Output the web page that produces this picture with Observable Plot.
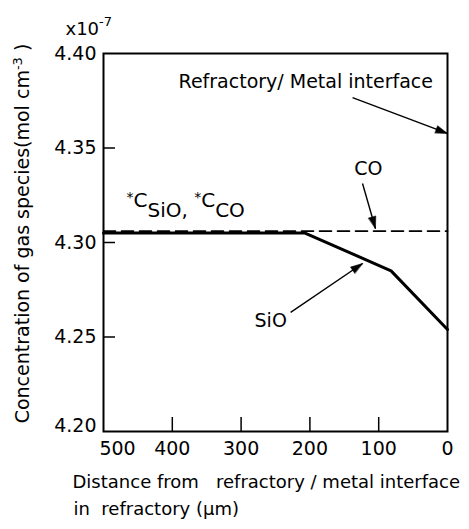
<!DOCTYPE html>
<html><head><meta charset="utf-8">
<script src="https://cdn.jsdelivr.net/npm/d3@7"></script>
<script src="https://cdn.jsdelivr.net/npm/@observablehq/plot@0.6"></script>
<style>
body{margin:0;background:#fff;}
svg text{white-space:pre;}
</style>
</head><body><div id="chart"></div>
<script>
// Data
const coDistance = [500, 0];
const coConc = [4.306, 4.306];
const sioDistance = [500, 207, 82, 0];
const sioConc = [4.305, 4.305, 4.285, 4.254];
const xTickLabels = [400, 300, 200, 100, 0];
const xFirstLabel = [500];
const xTickMarks = [400, 300, 200, 100];
const yTickLabels = [4.25, 4.30, 4.35, 4.40];
const yFirstLabel = [4.20];
const yTickMarks = [4.25, 4.30, 4.35];

// Annotations
const arrowX1 = [138, 123.5, 228];
const arrowY1 = [4.3767, 4.3312, 4.263];
const arrowX2 = [0, 104.7, 123.5];
const arrowY2 = [4.3577, 4.3074, 4.2889];
const noteText = ["Refractory/ Metal interface", "CO", "SiO"];
const noteX = [206, 115, 257];
const noteY = [4.385, 4.339, 4.2587];

const W = 469, H = 529, mL = 103, mR = 22, mT = 53, mB = 98;
const pw = W - mL - mR, ph = H - mT - mB;
const xDomain = [500, 0], yDomain = [4.20, 4.40];

// library scales, used only to orient the arrowheads on screen
const sx = Plot.scale({x: {domain: xDomain, range: [mL, W - mR]}});
const sy = Plot.scale({y: {domain: yDomain, range: [H - mB, mT]}});

const co = coDistance.map((d, i) => ({d, c: coConc[i]}));
const sio = sioDistance.map((d, i) => ({d, c: sioConc[i]}));
const arrows = arrowX1.map((x1, i) => {
  const a = {x1, y1: arrowY1[i], x2: arrowX2[i], y2: arrowY2[i]};
  const dx = sx.apply(a.x2) - sx.apply(a.x1), dy = sy.apply(a.y2) - sy.apply(a.y1);
  a.angle = Math.atan2(dx, -dy) * 180 / Math.PI;
  return a;
});
const notes = noteText.map((t, i) => ({t, x: noteX[i], y: noteY[i]}));

const head = {
  draw(context, l) {
    context.moveTo(0, -l);
    context.lineTo(-3.8, -l + 12);
    context.lineTo(3.8, -l + 12);
    context.closePath();
  }
};

const FONT = "'DejaVu Sans', 'Liberation Sans', Arial, sans-serif";

const chart = Plot.plot({
  width: W, height: H,
  marginLeft: mL, marginRight: mR, marginTop: mT, marginBottom: mB,
  style: {fontFamily: FONT, fontSize: "19px", color: "black", background: "white"},
  x: {domain: xDomain},
  y: {domain: yDomain},
  marks: [
    Plot.axisX({ticks: xTickLabels, tickSize: 0, tickPadding: 10, label: null, tickFormat: d => String(d)}),
    Plot.text(xFirstLabel, {x: d => d, frameAnchor: "bottom", lineAnchor: "top", dy: 10, dx: 14, text: d => String(d), fontSize: 19}),
    Plot.axisY({ticks: yTickLabels, tickSize: 0, tickPadding: 7, label: null, tickFormat: d => d.toFixed(2)}),
    Plot.text(yFirstLabel, {y: d => d, frameAnchor: "left", textAnchor: "end", dx: -7, dy: -6, text: d => d.toFixed(2), fontSize: 19}),
    Plot.tickY(yTickMarks, {y: d => d, insetRight: pw - 12, strokeWidth: 1.5}),
    Plot.tickX(xTickMarks, {x: d => d, insetTop: ph - 14, strokeWidth: 1.5}),
    Plot.line(co, {x: "d", y: "c", strokeDasharray: "12,6", strokeWidth: 1.6}),
    Plot.line(sio, {x: "d", y: "c", strokeWidth: 3}),
    Plot.frame({stroke: "black", strokeWidth: 2}),
    Plot.link(arrows, {x1: "x1", y1: "y1", x2: "x2", y2: "y2", strokeWidth: 1.4}),
    Plot.vector(arrows, {x: "x2", y: "y2", rotate: "angle", length: 12, anchor: "end", shape: head, fill: "black", stroke: "black", strokeWidth: 0.5}),
    Plot.text(notes, {x: "x", y: "y", text: "t", fontSize: 19}),
    Plot.text(["CSTAR"], {x: 466.6, y: 4.322, text: d => d, textAnchor: "start", fontSize: 20}),
    Plot.text(["XEXP"], {frameAnchor: "top-left", dx: -38, dy: -31, text: d => d, textAnchor: "start", fontSize: 18}),
    Plot.text(["YLABEL"], {frameAnchor: "left", textAnchor: "middle", dx: -81, dy: -9, rotate: -90, text: d => d, fontSize: 19}),
    Plot.text(["Distance from   refractory / metal interface"], {frameAnchor: "bottom-left", dx: -31, dy: 56, text: d => d, textAnchor: "start", fontSize: 18}),
    Plot.text(["in  refractory (\u00b5m)"], {frameAnchor: "bottom-left", dx: -30, dy: 83, text: d => d, textAnchor: "start", fontSize: 18})
  ]
});

function rich(svg, key, parts) {
  d3.select(svg).selectAll("text").filter(function() { return this.textContent === key; }).each(function() {
    const t = d3.select(this);
    t.text(null);
    for (const [s, dy, fs] of parts) {
      const sp = t.append("tspan").text(s);
      if (dy) sp.attr("dy", dy);
      if (fs) sp.attr("font-size", fs);
    }
  });
}
rich(chart, "CSTAR", [["*", -5, 14], ["C", 5, 20], ["SiO, ", 10, 20], ["*", -15, 14], ["C", 5, 20], ["CO", 10, 20]]);
rich(chart, "XEXP", [["x10", 0, 18], ["-7", -9, 13]]);
rich(chart, "YLABEL", [["Concentration of gas species(mol cm", 0, 19], ["-3", -7, 13], [" )", 7, 19]]);

document.getElementById("chart").appendChild(chart);
</script>
</body></html>
